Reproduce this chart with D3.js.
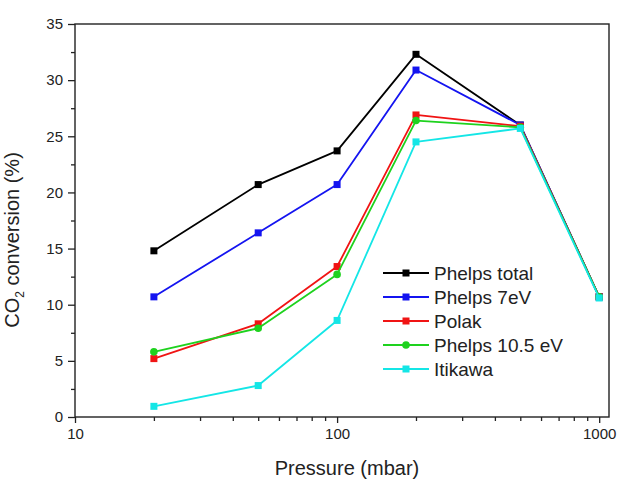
<!DOCTYPE html>
<html>
<head>
<meta charset="utf-8">
<script src="https://cdn.jsdelivr.net/npm/d3@7"></script>
<style>
  html, body { margin: 0; padding: 0; background: #fff; }
  svg { display: block; font-family: Arial, "Liberation Sans", sans-serif; }
</style>
</head>
<body>
<svg id="chart" width="617" height="480"></svg>
<script>
// Pressure settings (mbar)
const pressures = [20, 50, 100, 200, 500, 1000];

// CO2 conversion (%) for each cross-section set
const phelpsTotal = [14.8, 20.7, 23.7, 32.3, 26.0, 10.7];
const phelps7eV   = [10.7, 16.4, 20.7, 30.9, 26.0, 10.7];
const polak       = [5.2, 8.3, 13.4, 26.9, 25.9, 10.7];
const phelps105eV = [5.8, 7.9, 12.7, 26.4, 25.8, 10.7];
const itikawa     = [0.95, 2.8, 8.6, 24.5, 25.7, 10.6];

const seriesNames = ["Phelps total", "Phelps 7eV", "Polak", "Phelps 10.5 eV", "Itikawa"];
const seriesValues = [phelpsTotal, phelps7eV, polak, phelps105eV, itikawa];
const seriesColors = ["#000000", "#1414f0", "#f01414", "#1ed21e", "#14e6e6"];
const seriesShapes = ["square", "square", "square", "circle", "square"];

const yTicks = [0, 5, 10, 15, 20, 25, 30, 35];
const xTicks = [10, 100, 1000];

const svg = d3.select("#chart");
const plotLeft = 75, plotRight = 609, plotTop = 24, plotBottom = 417;

const x = d3.scaleLog().domain([10, 1090]).range([plotLeft, plotRight]);
const y = d3.scaleLinear().domain([0, 35]).range([plotBottom, plotTop]);

// Axes: major and minor ticks pointing outward
const minorX = [];
for (let d = 10; d < 1000; d *= 10) for (let k = 2; k <= 9; k++) minorX.push(k * d);
const minorY = d3.range(2.5, 35, 5);

const xMinor = svg.append("g").attr("transform", `translate(0,${plotBottom})`)
  .call(d3.axisBottom(x).tickValues(minorX).tickSize(4).tickFormat(""));
xMinor.select(".domain").remove();
const xMajor = svg.append("g").attr("transform", `translate(0,${plotBottom})`)
  .call(d3.axisBottom(x).tickValues(xTicks).tickSize(6).tickPadding(5).tickFormat(d3.format("d")));
xMajor.select(".domain").remove();
xMajor.selectAll("text").attr("font-size", 15).attr("fill", "#222").attr("font-family", "Arial, 'Liberation Sans', sans-serif");

const yMinor = svg.append("g").attr("transform", `translate(${plotLeft},0)`)
  .call(d3.axisLeft(y).tickValues(minorY).tickSize(4).tickFormat(""));
yMinor.select(".domain").remove();
const yMajor = svg.append("g").attr("transform", `translate(${plotLeft},0)`)
  .call(d3.axisLeft(y).tickValues(yTicks).tickSize(7).tickPadding(5));
yMajor.select(".domain").remove();
yMajor.selectAll("text").attr("font-size", 15).attr("fill", "#222").attr("font-family", "Arial, 'Liberation Sans', sans-serif");

svg.selectAll(".tick line").attr("stroke", "#222").attr("stroke-width", 1.3);

// Frame
svg.append("rect")
  .attr("x", plotLeft).attr("y", plotTop)
  .attr("width", plotRight - plotLeft).attr("height", plotBottom - plotTop)
  .attr("fill", "none").attr("stroke", "#222").attr("stroke-width", 1.4);

// Series lines and markers
const line = d3.line().x((d, i) => x(pressures[i])).y(d => y(d));
const markerSize = 7;

function drawMarker(g, shape, cx, cy, color) {
  if (shape === "circle") {
    g.append("circle").attr("cx", cx).attr("cy", cy).attr("r", markerSize / 2 + 0.3).attr("fill", color);
  } else {
    g.append("rect").attr("x", cx - markerSize / 2).attr("y", cy - markerSize / 2)
      .attr("width", markerSize).attr("height", markerSize).attr("fill", color);
  }
}

seriesValues.forEach((vals, s) => {
  const g = svg.append("g");
  g.append("path").datum(vals).attr("d", line)
    .attr("fill", "none").attr("stroke", seriesColors[s]).attr("stroke-width", 1.8)
    .attr("stroke-linejoin", "round");
  vals.forEach((v, i) => drawMarker(g, seriesShapes[s], x(pressures[i]), y(v), seriesColors[s]));
});

// Legend
const legend = svg.append("g");
seriesNames.forEach((name, s) => {
  const ly = 273 + s * 24;
  legend.append("line").attr("x1", 383).attr("x2", 429).attr("y1", ly).attr("y2", ly)
    .attr("stroke", seriesColors[s]).attr("stroke-width", 1.8);
  drawMarker(legend, seriesShapes[s], 406, ly, seriesColors[s]);
  legend.append("text").attr("x", 434).attr("y", ly).attr("dy", "0.36em")
    .attr("font-size", 19).attr("fill", "#222").text(name);
});

// Axis titles
svg.append("text").attr("x", 347).attr("y", 475).attr("text-anchor", "middle")
  .attr("font-size", 20).attr("fill", "#222").text("Pressure (mbar)");

const yTitle = svg.append("text")
  .attr("transform", "translate(19,240) rotate(-90)")
  .attr("text-anchor", "middle").attr("font-size", 20).attr("fill", "#222");
yTitle.append("tspan").text("CO");
yTitle.append("tspan").attr("font-size", 12).attr("dy", 5).text("2");
yTitle.append("tspan").attr("dy", -5).text(" conversion (%)");
</script>
</body>
</html>
